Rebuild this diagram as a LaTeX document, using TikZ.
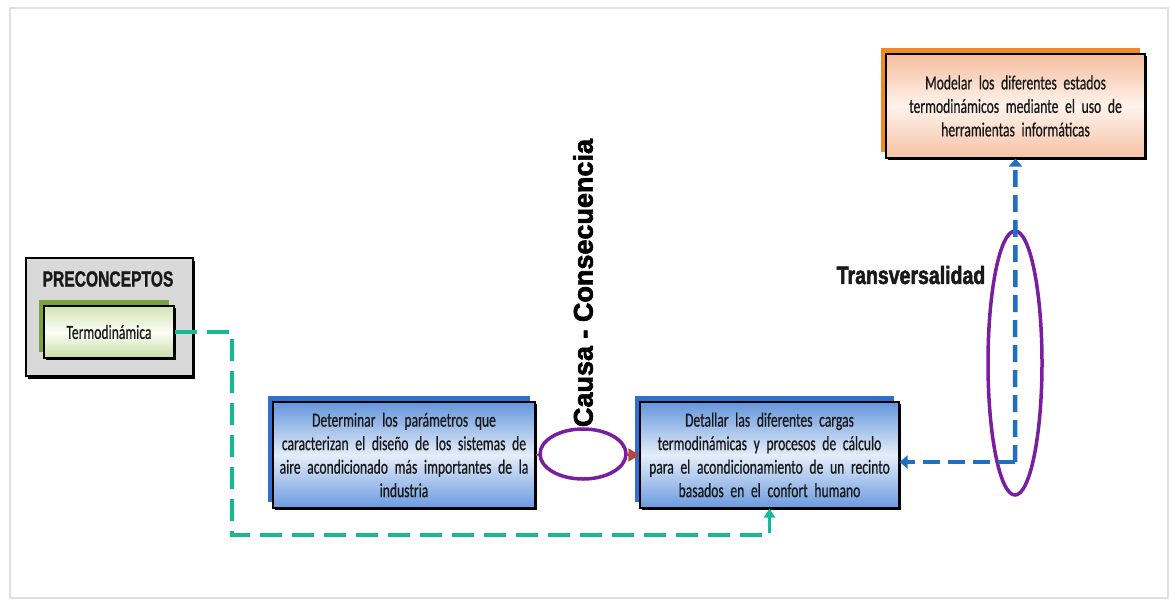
\documentclass[tikz,border=0pt]{standalone}
\usepackage{fontspec}
\setmainfont{Carlito}
\newfontfamily\boxfont[FakeStretch=0.68,WordSpace=0.6,FakeBold=0.6]{Carlito}
\newfontfamily\narrowbold[FakeStretch=0.71,FakeBold=1.2]{Liberation Sans}
\newfontfamily\transfont[FakeStretch=0.78,FakeBold=2]{Liberation Sans}
\newfontfamily\heavyfont[FakeBold=2.5]{Liberation Sans}
\usetikzlibrary{shapes.geometric,arrows.meta,shadows}
\definecolor{bluebk}{HTML}{2F6FD2}
\definecolor{bluetop}{HTML}{6496DC}
\definecolor{bluemid}{HTML}{E4EDF9}
\definecolor{bluebot}{HTML}{6A9AE0}
\definecolor{orangebk}{HTML}{EE8A2A}
\definecolor{orangetop}{HTML}{F5BE9E}
\definecolor{orangemid}{HTML}{FFF3EC}
\definecolor{orangebot}{HTML}{F6C2A4}
\definecolor{greenbk}{HTML}{7BA23F}
\definecolor{greentop}{HTML}{D2E4B2}
\definecolor{greenmid}{HTML}{FBFDF6}
\definecolor{greenbot}{HTML}{C9DEA6}
\definecolor{graybox}{HTML}{D9D9D9}
\definecolor{purp}{HTML}{7A1EA0}
\definecolor{redarr}{HTML}{B5463A}
\definecolor{bluearr}{HTML}{1F6FC2}
\definecolor{tealarr}{HTML}{17B894}
\tikzset{
  boxtext/.style={font=\boxfont\fontsize{20}{23.5}\selectfont, text=black!90, align=center, inner sep=0pt},
  shadedbox/.style={boxtext, rectangle, draw=black, line width=1.2pt,
    general shadow={fill=#1, shadow xshift=-5pt, shadow yshift=6pt},
    general shadow={fill=black, shadow xshift=2pt, shadow yshift=-2pt}},
  bluebox/.style={shadedbox=bluebk, top color=bluetop, bottom color=bluebot, middle color=bluemid,
    minimum width=262pt, minimum height=106pt, text width=250pt},
  orangebox/.style={shadedbox=orangebk, top color=orangetop, bottom color=orangebot, middle color=orangemid,
    minimum width=259pt, minimum height=104pt, text width=250pt},
  greenbox/.style={shadedbox=greenbk, top color=greentop, bottom color=greenbot, middle color=greenmid,
    minimum width=130pt, minimum height=52pt, text width=125pt},
  graycontainer/.style={rectangle, draw=black, line width=1.2pt, fill=graybox,
    general shadow={fill=black, shadow xshift=2pt, shadow yshift=-2.5pt},
    minimum width=167pt, minimum height=118pt},
  ring/.style={ellipse, draw=purp, line width=3.5pt, inner sep=0pt},
  greenconn/.style={draw=tealarr, line width=3.5pt, dash pattern=on 22pt off 10pt,
    -{Triangle[length=9pt,width=11pt]}},
  blueconn/.style={draw=bluearr, line width=4.5pt, dash pattern=on 17pt off 8pt,
    -{Triangle[length=8pt,width=13pt]}},
  redconn/.style={draw=redarr, line width=2pt, -{Triangle[length=11pt,width=13pt]}},
  bigtitle/.style={font=\transfont\bfseries\fontsize{25}{27}\selectfont, text=black!90},
}
\begin{document}
\begin{tikzpicture}[x=1pt,y=-1pt]
\useasboundingbox (0,0) rectangle (1175,600);
\fill[white] (0,0) rectangle (1175,600);
\draw[black!12, line width=1.5pt] (10,8) rectangle (1168,598);

% preconcepts
\node[graycontainer] (pre) at (109.5,317) {};
\node[font=\narrowbold\bfseries\fontsize{22}{24}\selectfont, text=black!90] (pretitle) at (108,279) {PRECONCEPTOS};
\node[greenbox] (term) at (109,332) {Termodinámica};

% main boxes
\node[bluebox] (box1) at (404,455) {Determinar los parámetros que\\caracterizan el diseño de los sistemas de\\aire acondicionado más importantes de la\\industria};
\node[bluebox, minimum width=259pt] (box2) at (769.5,455) {Detallar las diferentes cargas\\termodinámicas y procesos de cálculo\\para el acondicionamiento de un recinto\\basados en el confort humano};
\node[orangebox] (box3) at (1015.5,106) {Modelar los diferentes estados\\termodinámicos mediante el uso de\\herramientas informáticas};

% cause -> consequence arrow, partly hidden by the ring
\draw[redconn] (box1.east) -- (box2.west);

% ellipses and labels
\node[ring, fill=white, minimum width=86pt, minimum height=50pt] (ring1) at (583,454) {};
\node[ring, minimum width=54pt, minimum height=264pt] (ring2) at (1015,363) {};
\node[font=\heavyfont\bfseries\fontsize{27}{29}\selectfont, rotate=90, text=black] (cc) at (583,283) {Causa - Consecuencia};
\node[bigtitle] (trans) at (911,275) {Transversalidad};

% connectors
\coordinate (g1) at (232,332);
\coordinate (g2) at (232,535);
\draw[greenconn] (term.east) -- (g1) -- (g2) -| (box2.south);

\coordinate (b1) at (1015,462);
\draw[blueconn] (b1) -- (box2.east |- b1);
\draw[blueconn] (b1) -- (box3.south);
\end{tikzpicture}
\end{document}
